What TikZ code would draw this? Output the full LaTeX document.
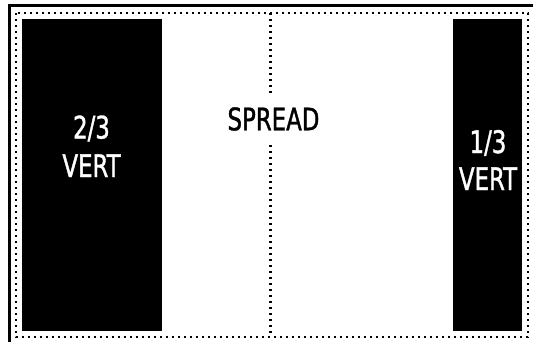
\documentclass[tikz,border=0pt]{standalone}
\usepackage{fontspec}
\setmainfont{DejaVu Sans Condensed}[FakeStretch=0.82, FakeBold=1.2]
\usetikzlibrary{positioning}

\begin{document}
\begin{tikzpicture}[x=1pt, y=-1pt, every node/.style={font=\fontsize{31}{33}\selectfont},
  dotline/.style={line width=2.2pt, dash pattern=on 2.2pt off 3.8pt},
  panel/.style={fill=black, draw=none, inner sep=0pt},
  panellabel/.style={text=white, inner sep=0pt, anchor=base}]
\useasboundingbox (0,0) rectangle (533,341);
\clip (0,0) rectangle (533,341);
\draw[line width=3pt] (9,350) -- (9,5) -- (545,5);
\draw[dotline] (16,13) rectangle (528,337);
% panels
\node[panel, minimum width=140pt, minimum height=312pt] (twothirds) at (92,175) {};
\node[panel, minimum width=69pt, minimum height=312pt] (onethird) at (487.5,175) {};
\node[panellabel] (twothirdsfrac) at (91.5,138.5) {2/3};
\node[panellabel] (twothirdsvert) at (91.5,177) {VERT};
\node[panellabel] (onethirdfrac) at (488,153) {1/3};
\node[panellabel] (onethirdvert) at (488,190) {VERT};
% spread divider
\coordinate (divtop) at (270.5,13);
\coordinate (divbot) at (270.5,337);
\node[fill=white, inner sep=0pt, minimum height=52pt] (spread) at (273.5,119) {SPREAD};
\draw[dotline] (divtop) -- (spread.north -| divtop);
\draw[dotline] (spread.south -| divbot) -- (divbot);
\end{tikzpicture}
\end{document}
